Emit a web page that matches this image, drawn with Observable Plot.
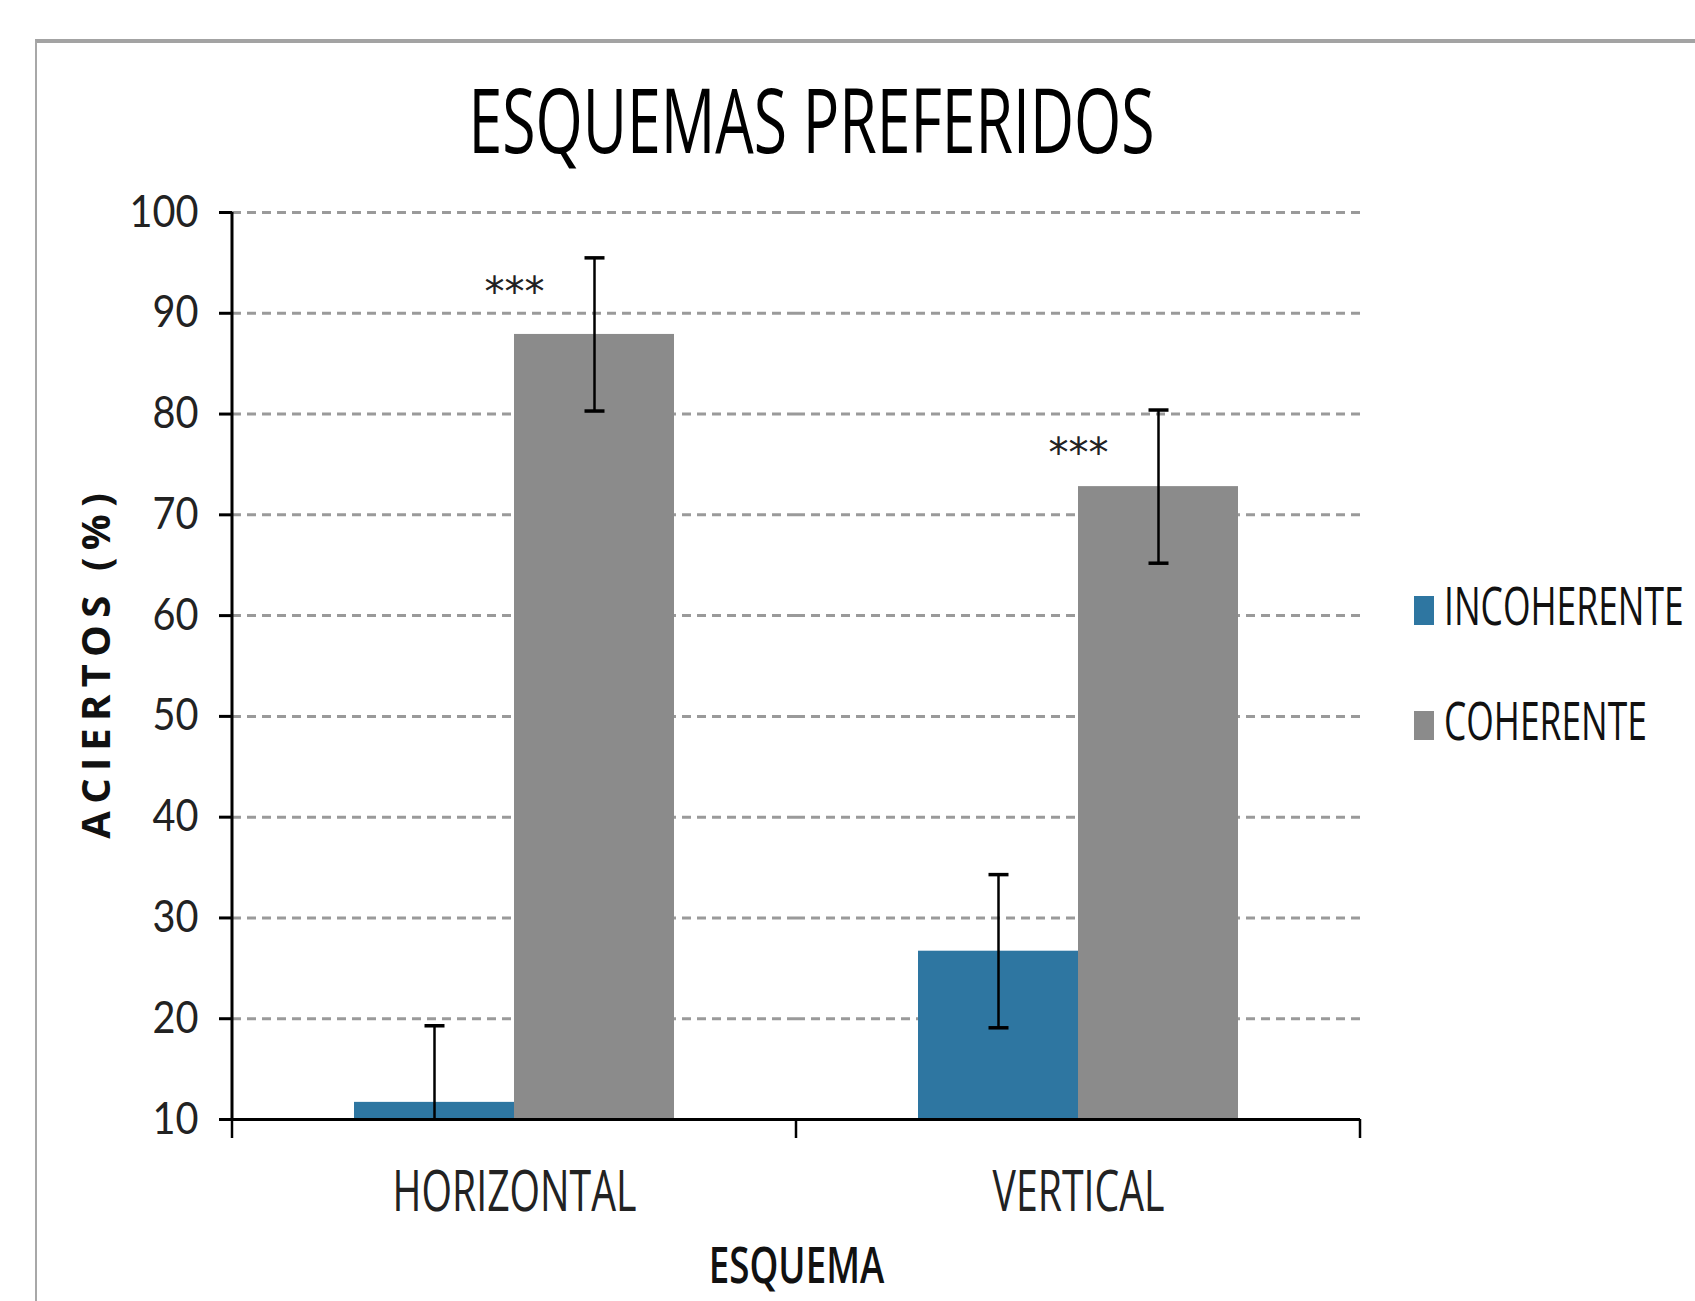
<!DOCTYPE html>
<html>
<head>
<meta charset="utf-8">
<script src="https://cdn.jsdelivr.net/npm/d3@7"></script>
<script src="https://cdn.jsdelivr.net/npm/@observablehq/plot@0.6"></script>
<style>
  html, body { margin: 0; padding: 0; background: #fff; }
  #wrap { position: relative; width: 1695px; height: 1301px; overflow: hidden; background: #fff; }
  #wrap svg { position: absolute; left: 0; top: 0; overflow: visible; }
  #frame { position: absolute; left: 35px; top: 39px; width: 1700px; height: 1300px;
           border-top: 4px solid #a3a3a3; border-left: 2px solid #a8a8a8; pointer-events: none; }
  #title { position: absolute; left: 303px; width: 1000px; top: 73px; text-align: center;
           font-family: "Open Sans"; font-size: 90px; line-height: 1; color: #000; white-space: nowrap; }
  #title span { display: inline-block; transform-origin: center; }
  .legrow { position: absolute; left: 1414px; height: 53px; white-space: nowrap; }
  .sw { position: absolute; left: 0; width: 20px; height: 29px; }
  .lt { position: absolute; left: 30px; top: 0; font-family: "Open Sans"; font-size: 53px; line-height: 1;
        color: #111; display: inline-block; transform-origin: left center; }
</style>
</head>
<body>
<div id="wrap">
  <div id="title"><span id="titletext">ESQUEMAS PREFERIDOS</span></div>
  <div id="legend"></div>
  <div id="frame"></div>
</div>
<script>
// ---- data ----
const esquemas = ["HORIZONTAL", "VERTICAL"];
const series = ["INCOHERENTE", "COHERENTE"];
const incoherente = [11.7, 26.7];
const coherente = [87.9, 72.8];
const errInc = [7.6, 7.6];
const errCoh = [7.6, 7.6];
const stars = ["***", "***"];
const starY = [92, 76];
const yTicks = [10, 20, 30, 40, 50, 60, 70, 80, 90, 100];
const colors = ["#2e76a1", "#8b8b8b"];
const titleText = "ESQUEMAS PREFERIDOS";
const yLabel = "ACIERTOS (%)";
const xLabel = "ESQUEMA";

// ---- tables built from the arrays ----
const rows = esquemas.flatMap((e, i) => [
  {esquema: e, serie: series[0], value: incoherente[i], err: errInc[i]},
  {esquema: e, serie: series[1], value: coherente[i], err: errCoh[i]}
]);
const starRows = esquemas.map((e, i) => ({esquema: e, label: stars[i], y: starY[i]}));

const capSymbol = {
  draw(ctx, size) {
    const r = Math.sqrt(size / Math.PI);
    ctx.moveTo(-r, 0);
    ctx.lineTo(r, 0);
  }
};

const plot = Plot.plot({
  width: 1695,
  height: 1301,
  marginLeft: 232,
  marginRight: 335,
  marginTop: 212,
  marginBottom: 182,
  style: {background: "transparent", fontFamily: "Lato", color: "#000", overflow: "visible"},
  fx: {domain: esquemas, padding: 0},
  x: {domain: series, paddingInner: 0, paddingOuter: 0.757, axis: null},
  y: {domain: [yTicks[0], yTicks[yTicks.length - 1]]},
  color: {domain: series, range: colors},
  marks: [
    Plot.gridY(yTicks.slice(1), {stroke: "#9a9a9a", strokeOpacity: 1, strokeWidth: 3, strokeDasharray: "9,6"}),
    Plot.barY(rows, {fx: "esquema", x: "serie", y1: yTicks[0], y2: "value", fill: "serie"}),
    Plot.ruleY([yTicks[0]], {stroke: "#000", strokeWidth: 3}),
    Plot.ruleX(rows, {fx: "esquema", x: "serie", y1: d => d.value - d.err, y2: d => d.value + d.err,
                      stroke: "#000", strokeWidth: 2.5, clip: true}),
    Plot.dot(rows, {fx: "esquema", x: "serie", y: d => d.value + d.err, symbol: capSymbol, r: 10,
                    fill: "none", stroke: "#000", strokeWidth: 3.5, clip: true}),
    Plot.dot(rows, {fx: "esquema", x: "serie", y: d => d.value - d.err, symbol: capSymbol, r: 10,
                    fill: "none", stroke: "#000", strokeWidth: 3.5, clip: true}),
    Plot.text(starRows, {fx: "esquema", y: "y", text: "label", fontSize: 40, fontFamily: "DejaVu Sans",
                         fill: "#222"}),
    Plot.axisY(yTicks, {tickSize: 13, tickPadding: 21, fontSize: 44, fontFamily: "Lato", fill: "#222",
                        stroke: "#000", strokeWidth: 3, label: null}),
    Plot.axisY([], {label: yLabel, labelAnchor: "center", labelArrow: "none", labelOffset: 151,
                    fontSize: 40, fontWeight: "bold", fontFamily: "Open Sans", fill: "#111"}),
    Plot.axisFx({anchor: "bottom", tickSize: 0, tickPadding: 52, fontSize: 56, fontFamily: "Open Sans",
                 fill: "#222", label: null}),
    Plot.axisFx([], {anchor: "bottom", label: xLabel, labelAnchor: "center", labelArrow: "none", labelOffset: 163,
                     fontSize: 51, fontWeight: 600, fontFamily: "Open Sans", fill: "#111"})
  ]
});

const wrap = document.getElementById("wrap");
wrap.insertBefore(plot, wrap.firstChild);

// axis line on the left and category boundary ticks, from the library's scales
const fxS = plot.scale("fx"), yS = plot.scale("y");
const svg = d3.select(plot);
const bounds = esquemas.map(e => fxS.apply(e)).concat([fxS.apply(esquemas[esquemas.length - 1]) + fxS.bandwidth]);
const yBase = yS.apply(yTicks[0]), yTop = yS.apply(yTicks[yTicks.length - 1]);
svg.append("line").attr("x1", bounds[0]).attr("x2", bounds[0]).attr("y1", yTop).attr("y2", yBase)
  .attr("stroke", "#000").attr("stroke-width", 3);
svg.selectAll("line.bt").data(bounds).join("line").attr("class", "bt")
  .attr("x1", d => d).attr("x2", d => d).attr("y1", yBase).attr("y2", yBase + 19)
  .attr("stroke", "#000").attr("stroke-width", 2.5);

// condensed / expanded lettering like the reference
function condense(sel, k) {
  sel.each(function () {
    const L = this.getComputedTextLength();
    this.setAttribute("textLength", L * k);
    this.setAttribute("lengthAdjust", "spacingAndGlyphs");
  });
}
condense(svg.selectAll('g[aria-label="fx-axis tick label"] text'), 0.7);
condense(svg.selectAll('g[aria-label="fx-axis label"] text'), 0.72);
condense(svg.selectAll('g[aria-label="y-axis tick label"] text'), 0.9);
svg.selectAll('g[aria-label="y-axis label"] text').each(function () {
  const L = this.getComputedTextLength();
  this.setAttribute("textLength", L * 1.3);
  this.setAttribute("lengthAdjust", "spacing");
});

// title
const tt = document.getElementById("titletext");
tt.textContent = titleText;
tt.style.transform = `scaleX(${686 / tt.offsetWidth})`;

// legend
const legend = document.getElementById("legend");
const legTops = [578, 693];
const legWidths = [240, 203];
series.forEach((s, i) => {
  const row = document.createElement("div");
  row.className = "legrow";
  row.style.top = legTops[i] + "px";
  const sw = document.createElement("div");
  sw.className = "sw";
  sw.style.background = colors[i];
  sw.style.top = "18px";
  const t = document.createElement("span");
  t.className = "lt";
  t.textContent = s;
  row.appendChild(sw);
  row.appendChild(t);
  legend.appendChild(row);
  t.style.transform = `scaleX(${legWidths[i] / t.offsetWidth})`;
});
</script>
</body>
</html>
